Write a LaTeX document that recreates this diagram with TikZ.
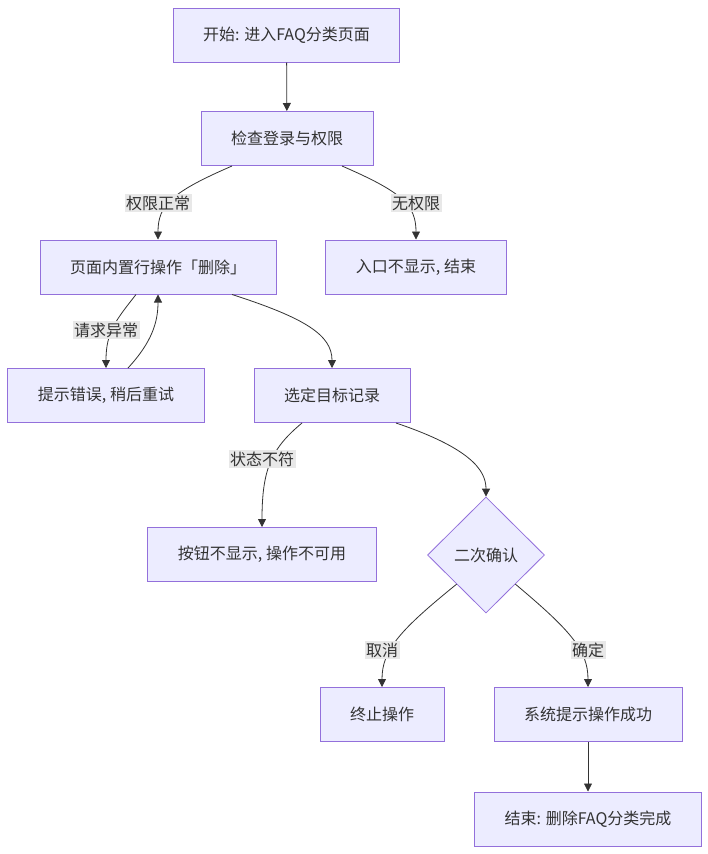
\documentclass[tikz,border=0pt]{standalone}
\usepackage{fontspec}
\setmainfont{Noto Sans CJK SC}
\usepackage{xcolor}
\usetikzlibrary{shapes.geometric, arrows.meta, positioning}

\definecolor{boxfill}{HTML}{ECECFF}
\definecolor{boxline}{HTML}{9370DB}
\definecolor{inkgray}{HTML}{333333}
\definecolor{labelbg}{HTML}{E8E8E8}

\begin{document}
\begin{tikzpicture}[
    x=1pt, y=-1pt,
    stepbox/.style={draw=boxline, fill=boxfill, line width=1pt, minimum height=54pt, inner xsep=30pt, text=inkgray, font=\fontsize{16}{19}\selectfont},
    choice/.style={diamond, draw=boxline, fill=boxfill, line width=0.8pt, aspect=1, minimum width=117pt, minimum height=116pt, inner sep=4pt, text=inkgray, font=\fontsize{16}{19}\selectfont},
    edgelabel/.style={fill=labelbg, inner sep=1.5pt, text=inkgray, font=\fontsize{16}{19}\selectfont},
    link/.style={draw=inkgray, line width=0.8pt, -{Triangle[length=8pt,width=8pt]}}
]
    \useasboundingbox (0,0) rectangle (708,854);

    \node[stepbox] (start) at (286.5,35) {开始: 进入FAQ分类页面};
    \node[stepbox] (check) at (287,138.5) {检查登录与权限};
    \node[stepbox] (rowop) at (158,267) {页面内置行操作「删除」};
    \node[stepbox] (noentry) at (416,267) {入口不显示, 结束};
    \node[stepbox] (errtip) at (106,395.5) {提示错误, 稍后重试};
    \node[stepbox] (pick) at (332,395.5) {选定目标记录};
    \node[stepbox] (nobtn) at (262,554.5) {按钮不显示, 操作不可用};
    \node[choice] (confirm) at (486,555) {二次确认};
    \node[stepbox] (abort) at (382,714.5) {终止操作};
    \node[stepbox] (okmsg) at (588,714.5) {系统提示操作成功};
    \node[stepbox] (finish) at (588,819) {结束: 删除FAQ分类完成};

    % connectors
    \draw[link] (start) -- (check);
    \draw[link] ([xshift=-55pt]check.south) .. controls (172,192) and (158,205) .. (rowop.north);
    \draw[link] ([xshift=55pt]check.south) .. controls (402,192) and (416,205) .. (noentry.north);
    \draw[link] ([xshift=-22pt]rowop.south) .. controls (116,320) and (106,332) .. (errtip.north);
    \draw[link] ([xshift=22pt]errtip.north) .. controls (152,342) and (158,322) .. (rowop.south);
    \draw[link] ([xshift=74pt]rowop.south) .. controls (305,318) and (332,335) .. (pick.north);
    \draw[link] ([xshift=-30pt]pick.south) .. controls (272,448) and (262,468) .. (nobtn.north);
    \draw[link] ([xshift=64pt]pick.south) .. controls (470,448) and (486,470) .. (confirm.north);
    \draw[link] (confirm.south west) .. controls (400,630) and (382,650) .. (abort.north);
    \draw[link] (confirm.south east) .. controls (570,630) and (588,650) .. (okmsg.north);
    \draw[link] (okmsg) -- (finish);

    % edge labels
    \node[edgelabel] (lblok) at (158,203) {权限正常};
    \node[edgelabel] (lblno) at (416,203) {无权限};
    \node[edgelabel] (lblerr) at (106,330) {请求异常};
    \node[edgelabel] (lblstate) at (262,459) {状态不符};
    \node[edgelabel] (lblcancel) at (382,650) {取消};
    \node[edgelabel] (lblyes) at (588,650) {确定};
\end{tikzpicture}
\end{document}
